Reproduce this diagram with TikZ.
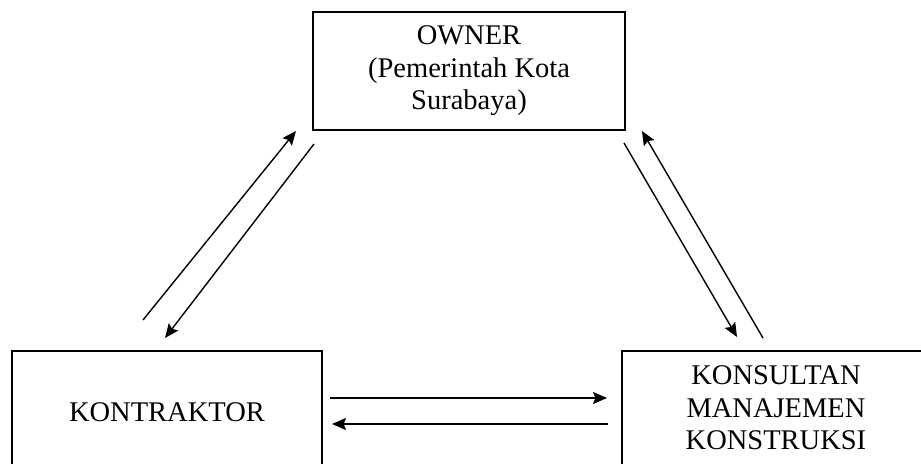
\documentclass[tikz,border=0pt]{standalone}
\usepackage{fontspec}
\setmainfont{Liberation Serif}
\usetikzlibrary{arrows.meta}

\begin{document}
\begin{tikzpicture}[x=0.5pt,y=-0.5pt]
\tikzstyle{fleche}=[-{Stealth[length=7pt,width=6pt,inset=1.2pt]},line width=0.7pt]
\tikzset{pihak/.style={draw,line width=0.9pt,align=center,inner sep=0pt,
font=\fontsize{14.25}{16.25}\selectfont,minimum width=#1},
pihak/.default={155pt}}
\useasboundingbox (0,0) rectangle (921,464);
\clip (0,0) rectangle (921,464);

\node[pihak=156pt,minimum height=59pt] (owner) at (469,71) {OWNER\\(Pemerintah Kota\\Surabaya)};
\node[pihak,minimum height=61pt] (kontraktor) at (167,412) {KONTRAKTOR};
\node[pihak=154pt,minimum height=57pt] (konsultan) at (776,408) {KONSULTAN\\MANAJEMEN\\KONSTRUKSI};

% ujung panah
\coordinate (ko1) at (143,320); \coordinate (ow1) at (296,131);
\coordinate (ow2) at (314,144); \coordinate (ko2) at (165,338);
\coordinate (ow3) at (624,143); \coordinate (km1) at (737,337);
\coordinate (km2) at (763,338); \coordinate (ow4) at (642,131);
\coordinate (ko3) at (330,398); \coordinate (km3) at (607,398);
\coordinate (km4) at (608,424); \coordinate (ko4) at (332,424);

\draw[fleche] (ko1) -- (ow1);
\draw[fleche] (ow2) -- (ko2);
\draw[fleche] (ow3) -- (km1);
\draw[fleche] (km2) -- (ow4);
\draw[fleche] (ko3) -- (km3);
\draw[fleche] (km4) -- (ko4);

\end{tikzpicture}
\end{document}
